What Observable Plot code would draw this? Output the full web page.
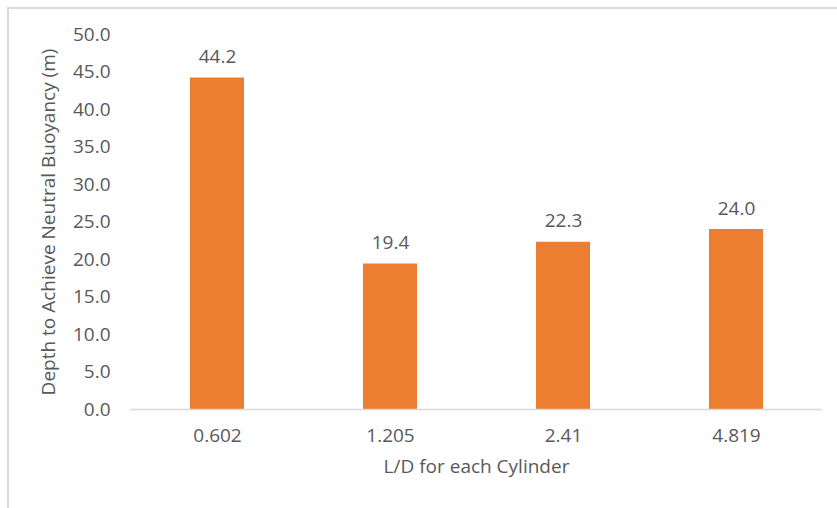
<!DOCTYPE html>
<html>
<head>
<meta charset="utf-8">
<script src="https://cdn.jsdelivr.net/npm/d3@7"></script>
<script src="https://cdn.jsdelivr.net/npm/@observablehq/plot@0.6"></script>
<style>
  html, body { margin: 0; padding: 0; background: #fff; }
  #wrap { position: relative; width: 837px; height: 508px; overflow: hidden; }
  #frame { position: absolute; left: 7px; top: 7px; width: 900px; height: 600px; border-top: 2px solid #d9d9d9; border-left: 2px solid #d9d9d9; box-sizing: border-box; }
  #chart { position: absolute; left: 0; top: 0; }
</style>
</head>
<body>
<div id="wrap"><div id="frame"></div><div id="chart"></div></div>
<script>
const categories = ["0.602", "1.205", "2.41", "4.819"];
const depths = [44.2, 19.4, 22.3, 24.0];
const yTicks = [0, 5, 10, 15, 20, 25, 30, 35, 40, 45, 50];

const data = categories.map((c, i) => ({ cat: c, value: depths[i] }));

const chart = Plot.plot({
  width: 837,
  height: 508,
  marginLeft: 130,
  marginRight: 15,
  marginTop: 34,
  marginBottom: 99,
  style: { fontFamily: "'Open Sans', sans-serif", fontSize: "19px", color: "#595959", background: "transparent" },
  x: { domain: categories, paddingInner: 0.69, paddingOuter: 0.345, label: null },
  y: { domain: [0, 50], label: null },
  marks: [
    Plot.axisY({ ticks: yTicks, tickFormat: d => d.toFixed(1), tickSize: 0, tickPadding: 20, fontSize: 19, label: "Depth to Achieve Neutral Buoyancy (m)", labelAnchor: "center", labelArrow: "none", labelOffset: 89 }),
    Plot.axisX({ tickSize: 0, tickPadding: 19, fontSize: 19, label: "L/D for each Cylinder", labelAnchor: "center", labelArrow: "none", labelOffset: 63 }),
    Plot.barY(data, { x: "cat", y: "value", fill: "#ED7D31" }),
    Plot.ruleY([0], { stroke: "#d9d9d9", strokeWidth: 1.5 }),
    Plot.text(data, { x: "cat", y: "value", text: d => d.value.toFixed(1), dy: -21, fontSize: 19, fill: "#595959" })
  ]
});
document.getElementById("chart").appendChild(chart);
</script>
</body>
</html>
